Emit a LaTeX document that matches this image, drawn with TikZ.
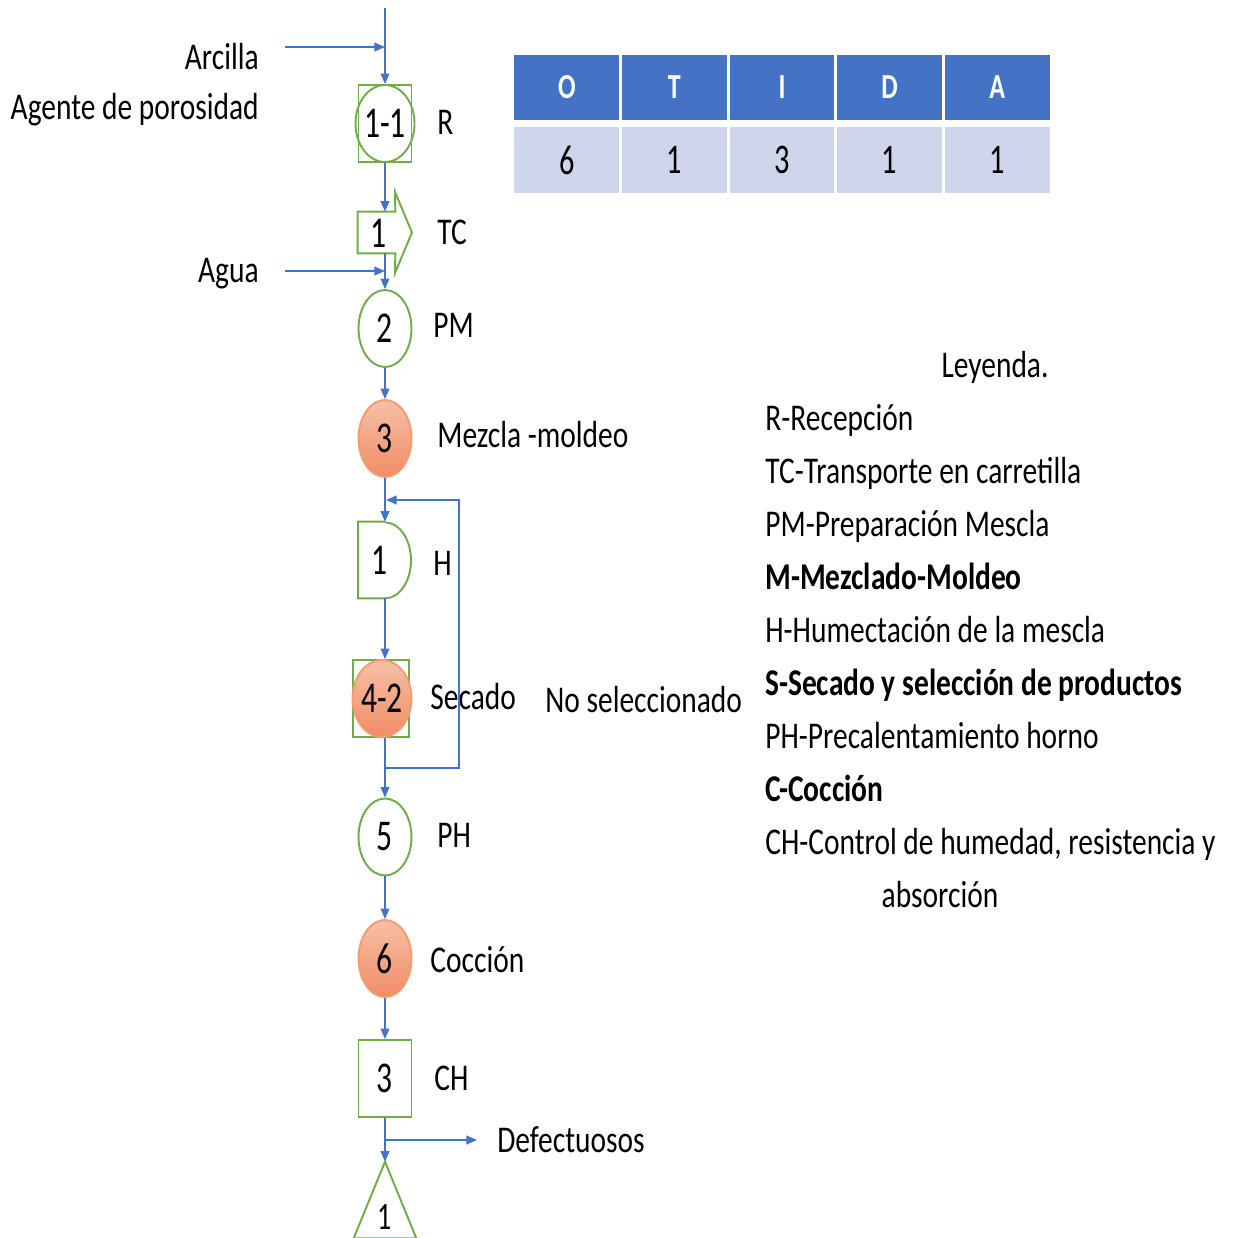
\documentclass[tikz,border=0pt]{standalone}
\usepackage{fontspec}
\setmainfont{Carlito}[FakeStretch=0.78]
\newfontfamily\numf{Carlito}[FakeStretch=0.72]
\newfontfamily\hdf{Carlito}[FakeStretch=0.74]
\usetikzlibrary{arrows.meta, shapes.geometric}
\definecolor{ogreen}{RGB}{112,173,71}
\definecolor{oblue}{RGB}{68,114,196}
\definecolor{olight}{RGB}{207,213,234}
\definecolor{orng}{RGB}{244,155,112}
\definecolor{orlight}{RGB}{247,192,166}
\definecolor{ordark}{RGB}{240,140,102}

\begin{document}
\begin{tikzpicture}[x=0.02cm, y=-0.02cm,
  font=\fontsize{21.5}{26}\selectfont,
  num/.style={inner sep=0pt, font=\numf\fontsize{25}{30}\selectfont},
  op/.style={ellipse, draw=ogreen, line width=1.1pt, minimum width=1.06cm,
             minimum height=1.54cm, num},
  opcal/.style={op, draw=orng, top color=orlight, bottom color=ordark},
  sq/.style={rectangle, draw=ogreen, line width=1.1pt, minimum width=1.06cm,
             minimum height=1.54cm, num},
  hold/.style={rectangle, minimum width=1.06cm, minimum height=1.52cm, inner sep=0pt},
  flow/.style={draw=oblue, line width=0.8pt, -{Triangle[length=6pt,width=5pt]}},
  txt/.style={inner sep=0pt, text height=14pt, text depth=0pt},
  lbl/.style={txt, anchor=west},
  hd/.style={fill=oblue, draw=white, line width=1.5pt, minimum width=2.152cm,
             minimum height=1.34cm, inner sep=0pt, text=white,
             font=\hdf\fontsize{20}{24}\selectfont\bfseries},
  dt/.style={hd, fill=olight, minimum height=1.36cm, text=black,
             font=\numf\fontsize{24}{28}\selectfont},
]
\useasboundingbox (0,0) rectangle (1233,1238);

% tabla resumen
\foreach \c/\v [count=\i from 0] in {O/6,T/1,I/3,D/1,A/1} {
  \node[hd] (h\c) at (566.8+107.6*\i,87.5) {\c};
  \node[dt] (d\c) at (566.8+107.6*\i,160) {\v};
}

% entradas
\node[txt, anchor=east] (arc) at (259,57) {Arcilla};
\node[txt, anchor=east] (age) at (259,107) {Agente de porosidad};
\node[txt, anchor=east] (agu) at (259,270) {Agua};
\coordinate (top) at (385,8);
\coordinate (arcin) at (285,47);
\coordinate (j1) at (385,47);
\coordinate (aguin) at (285,271);
\coordinate (j2) at (385,271);

% diagrama
\node[sq] (rec) at (385,123.5) {};
\node[op] (recn) at (rec) {1-1};
\node[lbl] (recl) at (437,122) {R};

\node[hold, minimum width=0.74cm, minimum height=0.82cm] (tc) at (376.5,232.5) {};
\draw[ogreen, line width=1.1pt] (tc.north west) -- (tc.north east) -- (395,192)
  -- (412,232.5) -- (395,273) -- (tc.south east) -- (tc.south west) -- cycle;
\node[num] (tcn) at (379,233) {1};
\node[lbl] (tcl) at (437,232) {TC};

\node[op] (pm) at (385,328.5) {2};
\node[lbl] (pml) at (433,325) {PM};

\node[opcal] (mez) at (385,438.5) {3};
\node[lbl] (mezl) at (437,435) {Mezcla -moldeo};

\node[hold] (hum) at (385,560) {};
\draw[ogreen, line width=1.1pt] (hum.north) -- (hum.north west) -- (hum.south west)
  -- (hum.south) arc[start angle=-90, end angle=90, x radius=0.52cm, y radius=0.76cm];
\node[num] (humn) at (380,560) {1};
\node[lbl] (huml) at (433,563) {H};

\node[sq, minimum width=1.12cm] (sec) at (381,698.5) {};
\node[opcal] (secn) at (382,698.5) {4-2};
\node[lbl] (secl) at (430,697) {Secado};
\node[lbl] (nosel) at (545,700) {No seleccionado};

\node[op] (pre) at (385,837) {5};
\node[lbl] (prel) at (437,835) {PH};

\node[opcal] (coc) at (385,958.5) {6};
\node[lbl] (cocl) at (430,960) {Cocción};

\node[sq] (ctl) at (385,1078.5) {3};
\node[lbl] (ctll) at (434,1078) {CH};

\node[hold, minimum width=1.24cm] (alm) at (385,1200) {};
\draw[ogreen, line width=1.1pt] (alm.north) -- (alm.south east) -- (alm.south west) -- cycle;
\node[num, font=\numf\fontsize{22}{26}\selectfont] (almn) at (385,1217) {1};

\node[lbl] (def) at (497,1140) {Defectuosos};
\coordinate (j3) at (385,1140);
\coordinate (defin) at (477,1140);
\coordinate (fb) at (385,768);
\coordinate (fbend) at (386,500);

% conectores
\draw[flow] (top) -- (rec.north);
\draw[flow] (arcin) -- (j1);
\draw[flow] (rec.south) -- (rec.south |- tc.north);
\draw[flow] (rec.south |- tc.south) -- (pm.north);
\draw[flow] (aguin) -- (j2);
\draw[flow] (pm.south) -- (mez.north);
\draw[flow] (mez.south) -- (hum.north);
\draw[flow] (hum.south) -- (hum.south |- sec.north);
\draw[flow] (hum.south |- sec.south) -- (pre.north);
\draw[flow] (fb) -- (459,768) -- (459,500) -- (fbend);
\draw[flow] (pre.south) -- (coc.north);
\draw[flow] (coc.south) -- (ctl.north);
\draw[flow] (ctl.south) -- (alm.north);
\draw[flow] (j3) -- (defin);

% leyenda
\node[txt] (ley) at (995,365) {Leyenda.};
\foreach \t [count=\i from 0] in {R-Recepción, TC-Transporte en carretilla,
    PM-Preparación Mescla, \textbf{M-Mezclado-Moldeo}, H-Humectación de la mescla,
    \textbf{S-Secado y selección de productos}, PH-Precalentamiento horno,
    \textbf{C-Cocción}, {CH-Control de humedad, resistencia y}}
  \node[lbl] (ley\i) at (765,418+53*\i) {\t};
\node[txt] (leyab) at (940,895) {absorción};
\end{tikzpicture}
\end{document}
